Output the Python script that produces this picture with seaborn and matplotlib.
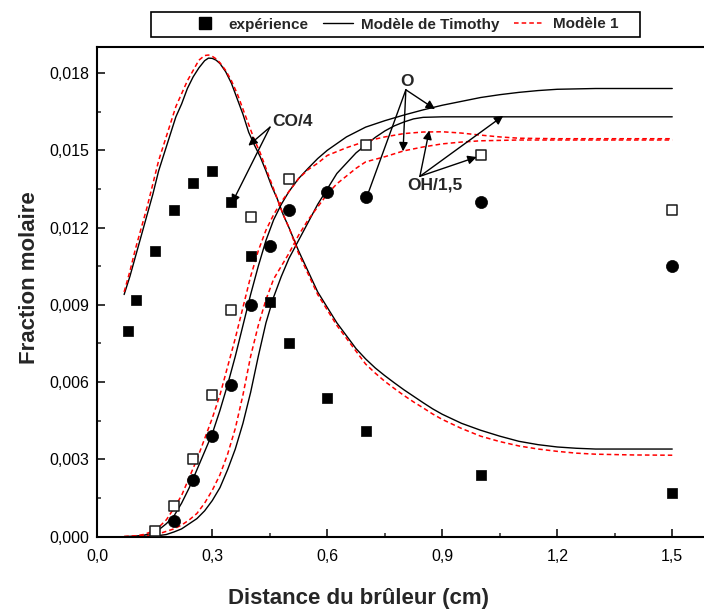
import matplotlib
matplotlib.use("Agg")
import matplotlib.pyplot as plt
import numpy as np
import pandas as pd
import seaborn as sns
from matplotlib.lines import Line2D
from matplotlib.patches import Rectangle

# ---------------- experimental data ----------------
co_x = [0.08, 0.10, 0.15, 0.20, 0.25, 0.30, 0.35, 0.40, 0.45, 0.50, 0.60, 0.70, 1.00, 1.50]
co_y = [0.0080, 0.0092, 0.0111, 0.0127, 0.01375, 0.0142, 0.0130, 0.0109, 0.0091,
        0.0075, 0.0054, 0.0041, 0.0024, 0.0017]

oh_x = [0.15, 0.20, 0.25, 0.30, 0.35, 0.40, 0.50, 0.70, 1.00, 1.50]
oh_y = [0.0002, 0.0012, 0.0030, 0.0055, 0.0088, 0.0124, 0.0139, 0.0152, 0.0148, 0.0127]

o_x = [0.20, 0.25, 0.30, 0.35, 0.40, 0.45, 0.50, 0.60, 0.70, 1.00, 1.50]
o_y = [0.0006, 0.0022, 0.0039, 0.0059, 0.0090, 0.0113, 0.0127, 0.0134, 0.0132, 0.0130, 0.0105]

# ---------------- model curves ----------------
co_tim_x = [0.07, 0.085, 0.10, 0.115, 0.13, 0.145, 0.16, 0.175, 0.19, 0.205, 0.22, 0.235,
            0.25, 0.265, 0.28, 0.29, 0.30, 0.31, 0.32, 0.335, 0.35, 0.365, 0.38, 0.395,
            0.41, 0.425, 0.44, 0.455, 0.47, 0.485, 0.50, 0.525, 0.55, 0.575, 0.60, 0.625,
            0.65, 0.675, 0.70, 0.725, 0.75, 0.775, 0.80, 0.825, 0.85, 0.875, 0.90, 0.95,
            1.00, 1.05, 1.10, 1.15, 1.20, 1.25, 1.30, 1.40, 1.50]
co_tim_y = [0.0094, 0.0101, 0.0109, 0.0117, 0.0125, 0.0133, 0.0142, 0.0149, 0.0156, 0.0163,
            0.0168, 0.0174, 0.01785, 0.0182, 0.01848, 0.01858, 0.01857, 0.0185, 0.01837,
            0.01805, 0.0176, 0.0170, 0.0164, 0.0157, 0.0152, 0.01475, 0.0142, 0.0136,
            0.0131, 0.0125, 0.0120, 0.0111, 0.0103, 0.0095, 0.0089, 0.0083, 0.0078,
            0.0073, 0.0069, 0.00655, 0.00625, 0.00597, 0.0057, 0.00545, 0.0052, 0.00496,
            0.00475, 0.0044, 0.00413, 0.0039, 0.0037, 0.00357, 0.00348, 0.00343, 0.0034,
            0.0034, 0.0034]
co_m1_x = [0.07, 0.085, 0.10, 0.115, 0.13, 0.145, 0.16, 0.175, 0.19, 0.205, 0.22, 0.235,
           0.25, 0.265, 0.28, 0.29, 0.30, 0.31, 0.32, 0.335, 0.35, 0.365, 0.38, 0.395,
           0.41, 0.425, 0.44, 0.455, 0.47, 0.485, 0.50, 0.525, 0.55, 0.575, 0.60, 0.625,
           0.65, 0.675, 0.70, 0.725, 0.75, 0.775, 0.80, 0.825, 0.85, 0.875, 0.90, 0.95,
           1.00, 1.05, 1.10, 1.15, 1.20, 1.25, 1.30, 1.40, 1.50]
co_m1_y = [0.0095, 0.0103, 0.0112, 0.0120, 0.0128, 0.0137, 0.0146, 0.0153, 0.0160, 0.0167,
           0.0172, 0.0177, 0.0181, 0.0185, 0.01868, 0.0187, 0.01865, 0.01855, 0.0184,
           0.0181, 0.0177, 0.0172, 0.0166, 0.0160, 0.0154, 0.0149, 0.0143, 0.0137,
           0.0131, 0.0125, 0.0120, 0.0110, 0.0102, 0.0094, 0.0088, 0.0082, 0.0077,
           0.0072, 0.0067, 0.00635, 0.00603, 0.00575, 0.00548, 0.00523, 0.0050, 0.00476,
           0.00455, 0.0042, 0.0039, 0.00369, 0.00352, 0.0034, 0.00331, 0.00324, 0.0032,
           0.00317, 0.00316]

o_tim_x = [0.07, 0.10, 0.12, 0.14, 0.16, 0.18, 0.20, 0.22, 0.24, 0.26, 0.28, 0.30, 0.32,
           0.34, 0.36, 0.38, 0.40, 0.42, 0.44, 0.46, 0.48, 0.50, 0.525, 0.55, 0.575, 0.60,
           0.65, 0.70, 0.75, 0.80, 0.85, 0.90, 0.95, 1.00, 1.05, 1.10, 1.15, 1.20, 1.30,
           1.50]
o_tim_y = [0.0, 0.00002, 0.00005, 0.00012, 0.00026, 0.0005, 0.0008, 0.0013, 0.0019, 0.0026,
           0.0033, 0.0040, 0.0049, 0.0059, 0.0070, 0.0082, 0.0094, 0.0105, 0.0115, 0.0123,
           0.0129, 0.0134, 0.0139, 0.0143, 0.01468, 0.0150, 0.01552, 0.0159, 0.01615,
           0.01637, 0.01657, 0.01675, 0.0169, 0.01705, 0.01716, 0.01725, 0.01732,
           0.01737, 0.0174, 0.0174]
oh_tim_x = [0.10, 0.15, 0.18, 0.20, 0.22, 0.24, 0.26, 0.28, 0.30, 0.32, 0.34, 0.36, 0.38,
            0.40, 0.42, 0.44, 0.46, 0.48, 0.50, 0.525, 0.55, 0.575, 0.60, 0.625, 0.65,
            0.675, 0.70, 0.725, 0.75, 0.775, 0.80, 0.825, 0.85, 0.90, 1.00, 1.50]
oh_tim_y = [0.0, 0.00002, 0.00008, 0.00018, 0.0003, 0.0005, 0.0007, 0.0010, 0.0014, 0.0019,
            0.0026, 0.0034, 0.0044, 0.0056, 0.0070, 0.0083, 0.0093, 0.0101, 0.0108,
            0.0115, 0.0122, 0.0129, 0.0135, 0.0141, 0.0145, 0.0149, 0.0152, 0.0155,
            0.01575, 0.01595, 0.0161, 0.01622, 0.01628, 0.0163, 0.0163, 0.0163]

oh_m1_x = [0.07, 0.10, 0.12, 0.14, 0.16, 0.18, 0.20, 0.22, 0.24, 0.26, 0.28, 0.30, 0.32,
           0.34, 0.36, 0.38, 0.40, 0.42, 0.44, 0.46, 0.48, 0.50, 0.525, 0.55, 0.575, 0.60,
           0.65, 0.70, 0.75, 0.80, 0.85, 0.90, 0.95, 1.00, 1.05, 1.10, 1.20, 1.50]
oh_m1_y = [0.0, 0.00003, 0.00008, 0.00018, 0.00036, 0.00065, 0.0011, 0.0016, 0.0023, 0.0030,
           0.0038, 0.0046, 0.0055, 0.0066, 0.0077, 0.0089, 0.0101, 0.0111, 0.0119, 0.0125,
           0.0130, 0.0134, 0.0139, 0.01425, 0.0145, 0.0148, 0.0151, 0.01535, 0.01552,
           0.01565, 0.01571, 0.01572, 0.01567, 0.01559, 0.01552, 0.01547, 0.01545,
           0.01545]
o_m1_x = [0.07, 0.10, 0.15, 0.20, 0.22, 0.24, 0.26, 0.28, 0.30, 0.32, 0.34, 0.36, 0.38,
          0.40, 0.42, 0.44, 0.46, 0.48, 0.50, 0.525, 0.55, 0.575, 0.60, 0.625, 0.65,
          0.675, 0.70, 0.75, 0.80, 0.85, 0.90, 0.95, 1.00, 1.10, 1.50]
o_m1_y = [0.0, 0.00001, 0.00006, 0.0003, 0.00045, 0.00065, 0.0009, 0.0013, 0.0018, 0.0024,
          0.0032, 0.0042, 0.0055, 0.0070, 0.0082, 0.0092, 0.0100, 0.0105, 0.0110, 0.0117,
          0.0123, 0.0128, 0.0133, 0.0137, 0.0140, 0.0143, 0.01455, 0.01475, 0.01498,
          0.01513, 0.01525, 0.01532, 0.01537, 0.0154, 0.0154]

# annotations: label, text position, arrow tail, arrow heads (all in data units)
annot_labels = ["CO/4", "O", "OH/1,5"]
annot_text_xy = [(0.509, 0.01612), (0.808, 0.01768), (0.881, 0.01366)]
annot_tail_xy = [(0.4506, 0.0159), (0.805, 0.01735), (0.8416, 0.01399)]
annot_heads = [[(0.394, 0.01518), (0.3506, 0.01293)],
               [(0.881, 0.0166), (0.7976, 0.01496), (0.6985, 0.0130)],
               [(0.866, 0.01577), (1.059, 0.01634), (0.9898, 0.01474)]]

legend_labels = ["expérience", "Modèle de Timothy", "Modèle 1"]

# ---------------- drawing ----------------
sns.set_theme(style="ticks")
plt.rcParams["font.family"] = ["Liberation Sans", "DejaVu Sans"]

W, H = 704, 610
fig = plt.figure(figsize=(W / 100, H / 100), dpi=100)
ax_l, ax_r, ax_t, ax_b = 97.3, 704.0, 47.3, 536.6
ax = fig.add_axes([ax_l / W, 1 - ax_b / H, (ax_r - ax_l) / W, (ax_b - ax_t) / H])

red_dash = (0, (3.0, 2.0))
for xs, ys in [(co_tim_x, co_tim_y), (o_tim_x, o_tim_y), (oh_tim_x, oh_tim_y)]:
    sns.lineplot(x=xs, y=ys, color="black", linewidth=1.0, estimator=None, ax=ax)
for xs, ys in [(co_m1_x, co_m1_y), (o_m1_x, o_m1_y), (oh_m1_x, oh_m1_y)]:
    sns.lineplot(x=xs, y=ys, color="#ff0000", linewidth=1.1, estimator=None, ax=ax)
    ax.lines[-1].set_linestyle(red_dash)

sns.scatterplot(x=co_x, y=co_y, marker="s", s=60, color="black", edgecolor="black",
                linewidth=0.5, ax=ax, zorder=4)
sns.scatterplot(x=o_x, y=o_y, marker="o", s=76, color="black", edgecolor="black",
                linewidth=0.5, ax=ax, zorder=4)
sns.scatterplot(x=oh_x, y=oh_y, marker="s", s=60, facecolor="white", edgecolor="#1a1a1a",
                linewidth=1.1, ax=ax, zorder=4)

# annotations
for lab, txy, tail, heads in zip(annot_labels, annot_text_xy, annot_tail_xy, annot_heads):
    ax.text(txy[0], txy[1], lab, fontsize=12.5, fontweight="bold", ha="center",
            va="center", zorder=5)
    for hxy in heads:
        ax.annotate("", xy=hxy, xytext=tail,
                    arrowprops=dict(arrowstyle="-|>", color="black", lw=1.0,
                                    mutation_scale=13, shrinkA=0, shrinkB=0),
                    zorder=5)

ax.set_xlim(0, (ax_r - ax_l) / 383.3)
ax.set_ylim(0, 0.019)
ax.set_xticks([0.0, 0.3, 0.6, 0.9, 1.2, 1.5])
ax.set_xticks(np.arange(0.15, 1.6, 0.3), minor=True)
ax.set_yticks(np.arange(0, 0.0181, 0.003))
ax.set_yticks(np.arange(0.0015, 0.019, 0.003), minor=True)
ax.set_xticklabels([f"{v:.1f}".replace(".", ",") for v in ax.get_xticks()])
ax.set_yticklabels([f"{v:.3f}".replace(".", ",") for v in ax.get_yticks()])

ax.tick_params(which="major", direction="in", length=6, width=1.1, labelsize=11.5,
               colors="black")
ax.tick_params(which="minor", direction="in", length=3, width=1.1)
ax.tick_params(axis="x", which="major", pad=9)
ax.tick_params(axis="y", which="major", pad=6)
for side in ["left", "bottom", "top"]:
    ax.spines[side].set_linewidth(1.5)
    ax.spines[side].set_color("black")
ax.spines["right"].set_visible(False)

ax.set_xlabel("Distance du brûleur (cm)", fontsize=16, fontweight="bold")
ax.set_ylabel("Fraction molaire", fontsize=16, fontweight="bold")
ax.xaxis.set_label_coords((358 - ax_l) / (ax_r - ax_l), (ax_b - 588) / (ax_b - ax_t))
ax.yaxis.set_label_coords((40 - ax_l) / (ax_r - ax_l), (ax_b - 278) / (ax_b - ax_t))

# legend above the plot, framed by a rectangle in figure coordinates
handles = [Line2D([], [], marker="s", color="black", linestyle="none", markersize=8),
           Line2D([], [], color="black", linewidth=1.0),
           Line2D([], [], color="#ff0000", linewidth=1.1, linestyle=red_dash)]
fig.legend(handles, legend_labels, loc="center", bbox_to_anchor=(404 / W, 1 - 24.5 / H),
           ncol=3, frameon=False, prop=dict(weight="bold", size=11),
           handlelength=2.0, columnspacing=0.9, handletextpad=0.55)
fig.patches.append(Rectangle((151 / W, 1 - 37 / H), (640 - 151) / W, 25 / H,
                             transform=fig.transFigure, fill=False, edgecolor="black",
                             linewidth=1.2))

fig.savefig("out.png", dpi=100)
